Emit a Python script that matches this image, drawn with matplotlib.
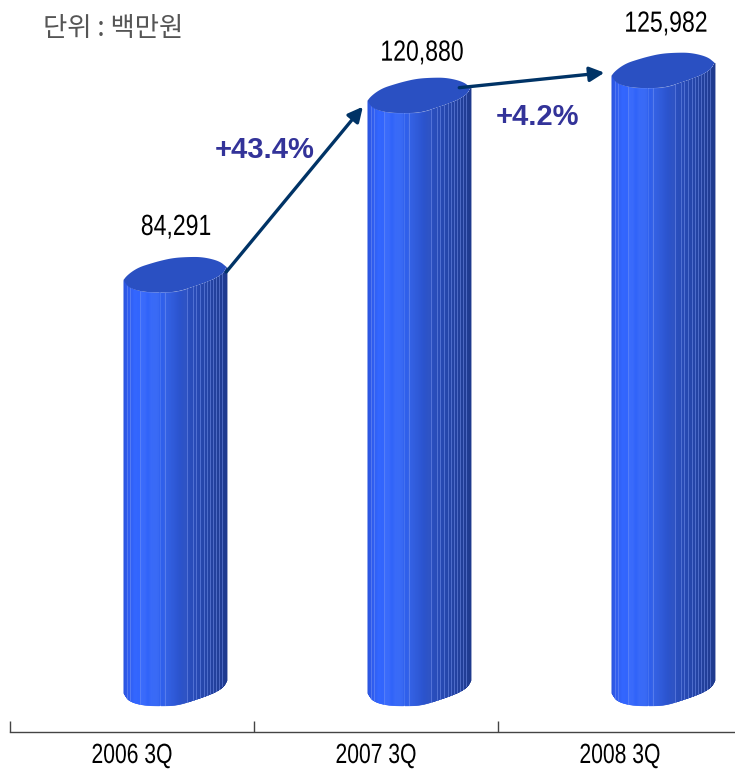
import matplotlib
matplotlib.use("Agg")
import matplotlib.pyplot as plt
import numpy as np
from matplotlib.colors import LinearSegmentedColormap
from matplotlib.patheffects import AbstractPathEffect
from matplotlib.transforms import Affine2D

categorias = ["2006 3Q", "2007 3Q", "2008 3Q"]
valores = [84291, 120880, 125982]
etiquetas = ["84,291", "120,880", "125,982"]
crecimiento = ["+43.4%", "+4.2%"]
unidad = "단위 : 백만원"

# pixel helpers: 735x770 canvas, axis line 38 px from the bottom
ANCHO, ALTO = 735, 770
X0, X_PASO = 10, 244
Y_EJE = 732
Y_BASE = 693
ESCALA = 0.0049  # px per unit
DESPLAZA = 43 / X_PASO  # bars sit right of the category centre
ANCHO_BARRA = 103 / X_PASO
VPX = 1 / ESCALA

# facet edges, as a fraction of the bar width
facetas = [0, .03, .06, .16, .40, .62, .67, .70, .74, .78, .81, .84,
           .87, .90, .93, .96, 1]
# lower rim of the lid: fraction of width, px above the left corner
borde_u = [0, .05, .19, .35, .52, .70, .81, .90, .97, 1]
borde_v = [0, -8, -12, -12.5, -12, -6, -2, 2, 7, 13]
# upper rim of the lid, right to left
tapa_u = [1, .93, .77, .62, .48, .35, .25, .16, .09, .03, 0]
tapa_v = [13, 19, 23, 23, 22, 19, 16, 13, 9, 4, 0]

colores = LinearSegmentedColormap.from_list(
    "cilindro", [(0, "#2c55e0"), (.10, "#3366ff"), (.32, "#3063f5"),
                 (.62, "#2a4fc0"), (1, "#1f3a8e")])


class Estrecho(AbstractPathEffect):
    # squeezes a text sideways, there is no narrow Arial here
    def __init__(self, centro_px, k):
        super().__init__()
        self.centro_px = centro_px
        self.k = k

    def draw_path(self, renderer, gc, tpath, affine, rgbFace=None):
        aprieta = Affine2D().translate(-self.centro_px, 0).scale(self.k, 1).translate(self.centro_px, 0)
        renderer.draw_path(gc, tpath, affine + aprieta, rgbFace)


def suavizar(us, vs, veces=3):
    p = np.column_stack([us, vs])
    for _ in range(veces):
        q = [p[0]]
        for a, b in zip(p[:-1], p[1:]):
            q += [0.75 * a + 0.25 * b, 0.25 * a + 0.75 * b]
        q.append(p[-1])
        p = np.array(q)
    return p[:, 0], p[:, 1]


def cilindro(ax, centro, valor):
    izq = centro - ANCHO_BARRA / 2
    bu, bv = suavizar(borde_u, borde_v)
    tu, tv = suavizar(tapa_u, tapa_v)
    for k in range(len(facetas) - 1):
        u = np.linspace(facetas[k], facetas[k + 1], 24)
        rim = np.interp(u, bu, bv) * VPX
        xs = izq + u * ANCHO_BARRA
        # a few colour steps per facet so the shading stays soft
        for m in range(0, 23):
            ax.fill_between(xs[m:m + 2], rim[m:m + 2], valor + rim[m:m + 2],
                            color=colores(u[m]), lw=0.4, zorder=2)
        if k > 0:
            ax.plot([xs[0], xs[0]], [rim[0], valor + rim[0]], color="#7f9cf5",
                    lw=0.6, alpha=0.55, zorder=3)
    ax.fill(izq + np.r_[bu, tu] * ANCHO_BARRA, valor + np.r_[bv, tv] * VPX,
            color="#2a50c2", lw=0, zorder=4)


fig = plt.figure(figsize=(ANCHO / 100, ALTO / 100), dpi=100)
ax = fig.add_axes([X0 / ANCHO, (ALTO - Y_EJE) / ALTO, (ANCHO - X0) / ANCHO, Y_EJE / ALTO])
ax.set_xlim(-0.5, -0.5 + (ANCHO - X0) / X_PASO)
ax.set_ylim(-(Y_EJE - Y_BASE) * VPX, Y_BASE * VPX)

sube = [39, 34, 38]
for i, v in enumerate(valores):
    cilindro(ax, i + DESPLAZA, v)
    x_txt = i + DESPLAZA + (0.004 if i == 0 else 0.012)
    t = ax.text(x_txt, v + sube[i] * VPX, etiquetas[i], ha="center", va="bottom",
                fontsize=21, color="black", family="Liberation Sans")
    t.set_path_effects([Estrecho(ax.transData.transform((x_txt, 0))[0], 0.79)])

# growth arrows between the bars
inicio = [(0 + DESPLAZA + 0.21, valores[0] + 8 * VPX), (1 + DESPLAZA + 0.165, valores[1] + 13 * VPX)]
fin = [(1 + DESPLAZA - 0.23, valores[1] - 6 * VPX), (2 + DESPLAZA - 0.24, valores[2] + 3 * VPX)]
for a, b in zip(inicio, fin):
    ax.annotate("", xy=b, xytext=a, zorder=6,
                arrowprops=dict(arrowstyle="-|>", color="#003366", lw=2.4,
                                mutation_scale=22, shrinkA=0, shrinkB=0))

pos_texto = [(0.545, valores[0] + 130 * VPX), (1.66, valores[1] - 16 * VPX)]
for t, (x, y) in zip(crecimiento, pos_texto):
    ax.text(x, y, t, ha="center", va="center", fontsize=21, fontweight="bold",
            color="#333399", family="Liberation Sans", zorder=7)

for s in ["top", "left", "right"]:
    ax.spines[s].set_visible(False)
ax.spines["bottom"].set_color("#444444")
ax.spines["bottom"].set_linewidth(1.0)
ax.set_yticks([])
ax.set_xticks([-0.5, 0.5, 1.5])
ax.set_xticklabels([])
ax.tick_params(axis="x", direction="in", length=8, width=1.0, color="#444444")
for i, c in enumerate(categorias):
    t = ax.text(i, -(Y_EJE + 24 - Y_BASE) * VPX, c, ha="center", va="center", fontsize=20,
                color="black", clip_on=False, family="Liberation Sans")
    t.set_path_effects([Estrecho(ax.transData.transform((i, 0))[0], 0.76)])

fig.text(43 / ANCHO, 1 - 29 / ALTO, unidad, ha="left", va="center", fontsize=19,
         color="#555555", family=["Noto Sans CJK KR", "DejaVu Sans"])

fig.savefig("out.png", dpi=100)
